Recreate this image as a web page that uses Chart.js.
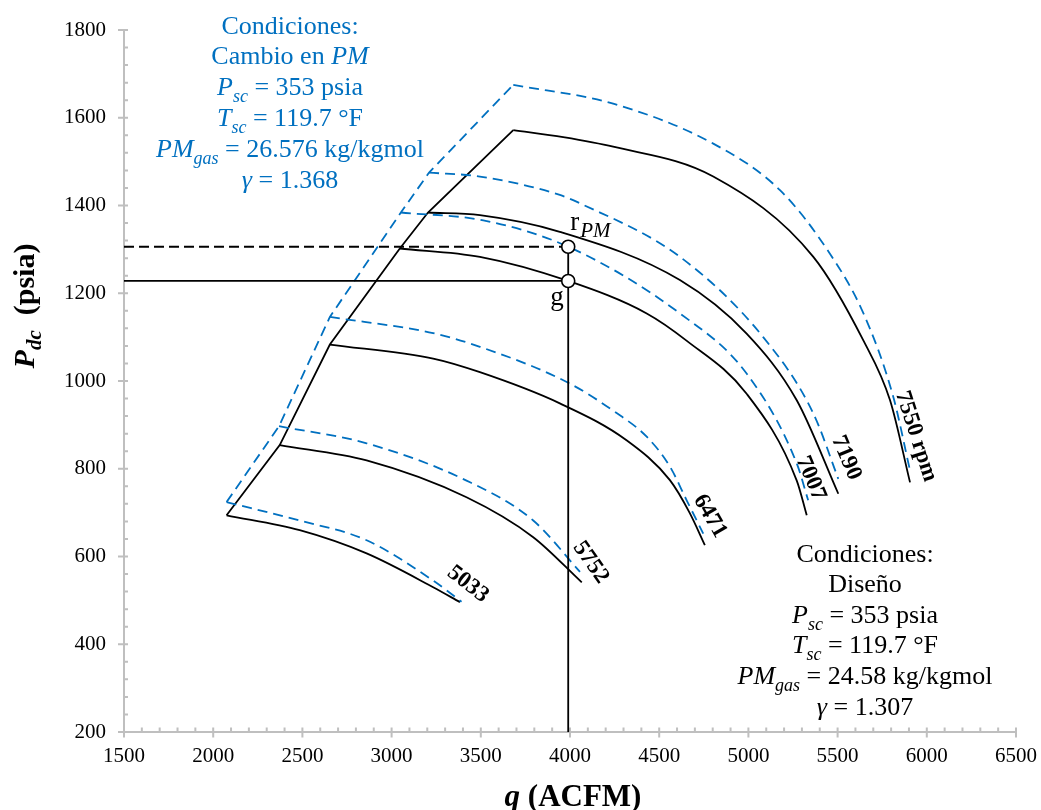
<!DOCTYPE html>
<html lang="es">
<head>
<meta charset="utf-8">
<title>Curvas del compresor - cambio en PM</title>
<script src="https://cdn.jsdelivr.net/npm/chart.js@4.4.1/dist/chart.umd.min.js"></script>
<style>
  html, body { margin: 0; padding: 0; background: #fff; }
  #wrap { width: 1041px; height: 810px; }
</style>
</head>
<body>
<div id="wrap"><canvas id="grafica" width="1041" height="810"></canvas></div>
<script>
// q (ACFM), Pdc (psia) -- condiciones de diseño
const diseno5033 = [[2075,694],[2485,660],[2860,607],[3233,530],[3383,496]];
const diseno5752 = [[2373,854],[2860,819],[3420,735],[3794,644],[4066,541]];
const diseno6471 = [[2654,1083],[3233,1051],[3495,1020],[3943,949],[4317,865],[4560,774],[4670,700],[4756,626]];
const diseno7007 = [[3046,1302],[3495,1283],[3990,1228],[4430,1154],[4653,1092],[4990,971],[5271,773],[5327,694]];
const diseno7190 = [[3204,1384],[3495,1378],[3943,1340],[4616,1230],[4990,1108],[5271,956],[5504,743]];
const diseno7550 = [[3682,1572],[3962,1556],[4242,1534],[4803,1466],[5364,1283],[5645,1092],[5794,956],[5906,769]];
const surgeDiseno = [[2075,694],[2373,854],[2654,1083],[3046,1302],[3204,1384],[3682,1572]];

// cambio en PM
const pm5033 = [[2075,724],[2485,682],[2860,637],[3233,545],[3392,497]];
const pm5752 = [[2369,897],[2860,858],[3420,773],[3794,682],[4056,565]];
const pm6471 = [[2654,1146],[3233,1109],[3495,1078],[3990,996],[4250,930],[4430,873],[4560,805],[4654,728],[4747,652]];
const pm7007 = [[3052,1384],[3514,1366],[3990,1306],[4616,1154],[4990,1017],[5271,812],[5335,728]];
const pm7190 = [[3210,1475],[3495,1466],[3943,1424],[4056,1405],[4616,1283],[5083,1100],[5364,926],[5504,777]];
const pm7550 = [[3682,1675],[4242,1632],[4803,1541],[5177,1435],[5457,1290],[5645,1154],[5812,964],[5906,796]];
const surgePM = [[2075,724],[2369,897],[2654,1146],[3052,1384],[3210,1475],[3682,1675]];

// puntos de operación
const puntoG = [3990, 1228];
const puntoR = [3990, 1306];

const rpmLabels = ['5033', '5752', '6471', '7007', '7190', '7550 rpm'];
const xTicks = [1500, 2000, 2500, 3000, 3500, 4000, 4500, 5000, 5500, 6000, 6500];
const yTicks = [200, 400, 600, 800, 1000, 1200, 1400, 1600, 1800];

const azul = '#0070C0';
const gris = '#BFBFBF';
const fuente = '"Liberation Serif", "Times New Roman", serif';

const curvasDiseno = [diseno5033, diseno5752, diseno6471, diseno7007, diseno7190, diseno7550];
const curvasPM = [pm5033, pm5752, pm6471, pm7007, pm7190, pm7550];

// posicion de la etiqueta respecto al final de cada curva (px) y giro (grados)
const etiquetaPos = [[8,-18,38],[9,-20,55],[5,-29,60],[4,-37,67],[8,-36,67],[6,-46,72]];

function aXY(puntos) {
    return puntos.map(p => ({ x: p[0], y: p[1] }));
}

function curva(puntos, color, dash, suave) {
    return {
        data: aXY(puntos),
        showLine: true,
        borderColor: color,
        borderWidth: 1.8,
        borderDash: dash,
        pointRadius: 0,
        fill: false,
        tension: 0,
        cubicInterpolationMode: suave ? 'monotone' : 'default',
        clip: false
    };
}

function fontDe(p) {
    return (p.i ? 'italic ' : '') + (p.b ? 'bold ' : '') + (p.s || 26) + 'px ' + fuente;
}

function textoRico(ctx, partes, cx, base, color) {
    const anchos = partes.map(p => { ctx.font = fontDe(p); return ctx.measureText(p.t).width; });
    const total = anchos.reduce((a, b) => a + b, 0);
    let x = cx - total / 2;
    ctx.fillStyle = color;
    ctx.textAlign = 'left';
    ctx.textBaseline = 'alphabetic';
    partes.forEach((p, k) => {
        ctx.font = fontDe(p);
        ctx.fillText(p.t, x, base + (p.dy || 0));
        x += anchos[k];
    });
}

function bloqueCondiciones(ctx, cx, bases, color, linea2, pm, gamma) {
    const sub = { i: true, s: 18, dy: 7 };
    const lineas = [
        [{ t: 'Condiciones:' }],
        linea2,
        [{ t: 'P', i: true }, Object.assign({ t: 'sc' }, sub), { t: ' = 353 psia' }],
        [{ t: 'T', i: true }, Object.assign({ t: 'sc' }, sub), { t: ' = 119.7 °F' }],
        [{ t: 'PM', i: true }, Object.assign({ t: 'gas' }, sub), { t: ' = ' + pm + ' kg/kgmol' }],
        [{ t: 'γ', i: true }, { t: ' = ' + gamma }]
    ];
    lineas.forEach((l, k) => textoRico(ctx, l, cx, bases[k], color));
}

const ejesPlugin = {
    id: 'ejes',
    beforeDatasetsDraw(chart) {
        const ctx = chart.ctx;
        const ca = chart.chartArea;
        const xs = chart.scales.x;
        const ys = chart.scales.y;
        ctx.save();
        ctx.strokeStyle = gris;
        ctx.lineWidth = 2;
        ctx.beginPath();
        ctx.moveTo(ca.left, ca.bottom);
        ctx.lineTo(ca.right + 1, ca.bottom);
        ctx.moveTo(ca.left, ca.bottom);
        ctx.lineTo(ca.left, ca.top - 1);
        for (let v = 1500; v <= 6500; v += 100) {
            const px = xs.getPixelForValue(v);
            ctx.moveTo(px, ca.bottom - 4.5);
            ctx.lineTo(px, v % 500 === 0 ? ca.bottom + 5.5 : ca.bottom);
        }
        for (let v = 200; v <= 1800; v += 40) {
            const py = ys.getPixelForValue(v);
            ctx.moveTo(ca.left - (v % 200 === 0 ? 6 : 0), py);
            ctx.lineTo(ca.left + 4, py);
        }
        ctx.stroke();
        ctx.restore();
    },
    afterDatasetsDraw(chart) {
        const ctx = chart.ctx;
        const xs = chart.scales.x;
        const ys = chart.scales.y;
        ctx.save();

        // etiquetas de velocidad
        ctx.fillStyle = '#000';
        ctx.font = 'bold 23px ' + fuente;
        ctx.textAlign = 'center';
        ctx.textBaseline = 'middle';
        curvasDiseno.forEach((c, k) => {
            const fin = c[c.length - 1];
            const o = etiquetaPos[k];
            ctx.save();
            ctx.translate(xs.getPixelForValue(fin[0]) + o[0], ys.getPixelForValue(fin[1]) + o[1]);
            ctx.rotate(o[2] * Math.PI / 180);
            ctx.fillText(rpmLabels[k], 0, 0);
            ctx.restore();
        });

        // nombres de los puntos
        const rx = xs.getPixelForValue(puntoR[0]);
        const ry = ys.getPixelForValue(puntoR[1]);
        const gx = xs.getPixelForValue(puntoG[0]);
        const gy = ys.getPixelForValue(puntoG[1]);
        ctx.textAlign = 'left';
        ctx.textBaseline = 'alphabetic';
        ctx.font = '27px ' + fuente;
        ctx.fillText('r', rx + 2, ry - 17);
        ctx.font = 'italic 21px ' + fuente;
        ctx.fillText('PM', rx + 12, ry - 10);
        ctx.font = '27px ' + fuente;
        ctx.fillText('g', gx - 18, gy + 24);

        // bloques de condiciones
        bloqueCondiciones(ctx, 290, [34, 64, 95, 126, 157, 188], azul,
            [{ t: 'Cambio en ' }, { t: 'PM', i: true }], '26.576', '1.368');
        bloqueCondiciones(ctx, 865, [562, 592, 623, 653, 684, 715], '#000',
            [{ t: 'Diseño' }], '24.58', '1.307');

        // titulos de ejes
        textoRico(ctx, [{ t: 'q', i: true, b: true, s: 31 }, { t: ' (ACFM)', b: true, s: 31 }], 573, 806, '#000');
        ctx.save();
        ctx.translate(34, 306);
        ctx.rotate(-Math.PI / 2);
        textoRico(ctx, [
            { t: 'P', i: true, b: true, s: 30 },
            { t: 'dc', i: true, b: true, s: 21, dy: 7 },
            { t: '  (psia)', b: true, s: 30 }
        ], 0, 0, '#000');
        ctx.restore();

        ctx.restore();
    }
};

const datasets = [];
// puntos g y r_PM (arriba de todo)
datasets.push({
    data: aXY([puntoR, puntoG]),
    showLine: false,
    pointRadius: 6.5,
    pointBackgroundColor: '#fff',
    pointBorderColor: '#000',
    pointBorderWidth: 1.6,
    clip: false
});
// lineas de referencia
datasets.push(curva([[1500, puntoR[1]], puntoR], '#000', [10, 5], false));
datasets.push(curva([[1500, puntoG[1]], puntoG], '#000', [], false));
datasets.push(curva([puntoR, [puntoR[0], 200]], '#000', [], false));
curvasPM.forEach(c => datasets.push(curva(c, azul, [10, 6], true)));
datasets.push(curva(surgePM, azul, [10, 6], false));
curvasDiseno.forEach(c => datasets.push(curva(c, '#000', [], true)));
datasets.push(curva(surgeDiseno, '#000', [], false));

new Chart(document.getElementById('grafica'), {
    type: 'scatter',
    data: { datasets: datasets },
    options: {
        responsive: false,
        animation: false,
        layout: { padding: { top: 30, right: 25, left: 0, bottom: 0 } },
        plugins: { legend: { display: false }, tooltip: { enabled: false } },
        scales: {
            x: {
                type: 'linear', min: 1500, max: 6500,
                grid: { display: false, drawTicks: false },
                border: { display: false },
                afterBuildTicks: s => { s.ticks = xTicks.map(v => ({ value: v })); },
                afterFit: s => { s.height = 78; s.paddingLeft = 0; s.paddingRight = 0; },
                ticks: { padding: 12, color: '#000', maxRotation: 0, font: { family: fuente, size: 21 },
                         callback: v => String(v) }
            },
            y: {
                type: 'linear', min: 200, max: 1800,
                grid: { display: false, drawTicks: false },
                border: { display: false },
                afterBuildTicks: s => { s.ticks = yTicks.map(v => ({ value: v })); },
                afterFit: s => { s.width = 124; s.paddingTop = 0; s.paddingBottom = 0; },
                ticks: { padding: 18, color: '#000', font: { family: fuente, size: 21 },
                         callback: v => String(v) }
            }
        }
    },
    plugins: [ejesPlugin]
});
</script>
</body>
</html>
